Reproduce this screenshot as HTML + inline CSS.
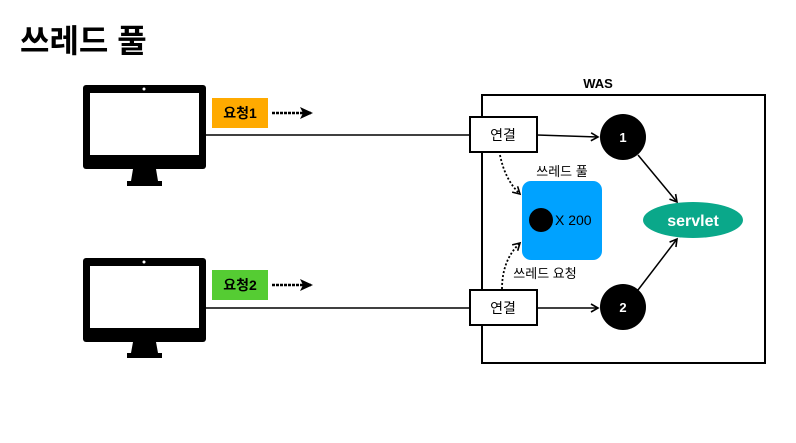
<!DOCTYPE html>
<html><head><meta charset="utf-8"><style>
body{margin:0;background:#fff;}
text{font-family:"Liberation Sans","Noto Sans CJK KR",sans-serif;}
</style></head><body>
<svg width="796" height="438" viewBox="0 0 796 438" xmlns="http://www.w3.org/2000/svg">
<defs>
<marker id="a" markerWidth="10" markerHeight="10" refX="8" refY="5" orient="auto" markerUnits="userSpaceOnUse">
<path d="M1,1 L8,5 L1,9" fill="none" stroke="#000" stroke-width="1.6"/></marker>
<marker id="b" markerWidth="14" markerHeight="14" refX="12" refY="7" orient="auto" markerUnits="userSpaceOnUse">
<path d="M0,1 L13,7 L0,13 L3,7 Z" fill="#000"/></marker>
</defs>
<text x="20" y="52" font-size="32" font-weight="bold" fill="#000">쓰레드 풀</text>
<rect x="83" y="85" width="123" height="84" rx="3" fill="#000"/>
<rect x="90" y="93" width="109" height="62" fill="#fff"/>
<circle cx="144" cy="89" r="1.5" fill="#fff"/>
<path d="M133,169 L156,169 L158,181 L162,181 L162,186 L127,186 L127,181 L131,181 Z" fill="#000"/>
<rect x="212" y="98" width="56" height="30" fill="#FFAA00"/>
<text x="240" y="118" font-size="14" font-weight="bold" text-anchor="middle">요청1</text>
<line x1="272" y1="113" x2="312" y2="113" stroke="#000" stroke-width="2.5" stroke-dasharray="3 1" marker-end="url(#b)"/>
<rect x="83" y="258" width="123" height="84" rx="3" fill="#000"/>
<rect x="90" y="266" width="109" height="62" fill="#fff"/>
<circle cx="144" cy="262" r="1.5" fill="#fff"/>
<path d="M133,342 L156,342 L158,353 L162,353 L162,358 L127,358 L127,353 L131,353 Z" fill="#000"/>
<rect x="212" y="270" width="56" height="30" fill="#55CC33"/>
<text x="240" y="290" font-size="14" font-weight="bold" text-anchor="middle">요청2</text>
<line x1="272" y1="285" x2="312" y2="285" stroke="#000" stroke-width="2.5" stroke-dasharray="3 1" marker-end="url(#b)"/>
<text x="598" y="88" font-size="13" font-weight="bold" text-anchor="middle">WAS</text>
<rect x="482" y="95" width="283" height="268" fill="none" stroke="#000" stroke-width="2"/>
<line x1="206" y1="135" x2="470" y2="135" stroke="#000" stroke-width="1.5"/>
<line x1="206" y1="308" x2="470" y2="308" stroke="#000" stroke-width="1.5"/>
<rect x="470" y="117" width="67" height="35" fill="#fff" stroke="#000" stroke-width="2"/>
<text x="503" y="140" font-size="14" text-anchor="middle">연결</text>
<rect x="470" y="290" width="67" height="35" fill="#fff" stroke="#000" stroke-width="2"/>
<text x="503" y="313" font-size="14" text-anchor="middle">연결</text>
<line x1="537" y1="135" x2="598" y2="137" stroke="#000" stroke-width="1.5" marker-end="url(#a)"/>
<line x1="537" y1="308" x2="598" y2="308" stroke="#000" stroke-width="1.5" marker-end="url(#a)"/>
<circle cx="623" cy="137" r="23" fill="#000"/>
<text x="623" y="142" font-size="13" font-weight="bold" fill="#fff" text-anchor="middle">1</text>
<circle cx="623" cy="307" r="23" fill="#000"/>
<text x="623" y="312" font-size="13" font-weight="bold" fill="#fff" text-anchor="middle">2</text>
<line x1="638" y1="155" x2="677" y2="202" stroke="#000" stroke-width="1.5" marker-end="url(#a)"/>
<line x1="638" y1="290" x2="677" y2="239" stroke="#000" stroke-width="1.5" marker-end="url(#a)"/>
<ellipse cx="693" cy="220" rx="50" ry="18" fill="#0AA88A"/>
<text x="693" y="226" font-size="16" font-weight="bold" fill="#fff" text-anchor="middle">servlet</text>
<text x="562" y="176" font-size="13" text-anchor="middle">쓰레드 풀</text>
<rect x="522" y="181" width="80" height="79" rx="9" fill="#00A2FF"/>
<circle cx="541" cy="220" r="12" fill="#000"/>
<text x="555" y="225" font-size="14" fill="#000">X 200</text>
<path d="M500,155 Q505,180 520,194" fill="none" stroke="#000" stroke-width="1.8" stroke-dasharray="2 2" marker-end="url(#a)"/>
<path d="M502,289 Q502,260 520,243" fill="none" stroke="#000" stroke-width="1.8" stroke-dasharray="2 2" marker-end="url(#a)"/>
<text x="545" y="278" font-size="13" text-anchor="middle">쓰레드 요청</text>
</svg>
</body></html>
